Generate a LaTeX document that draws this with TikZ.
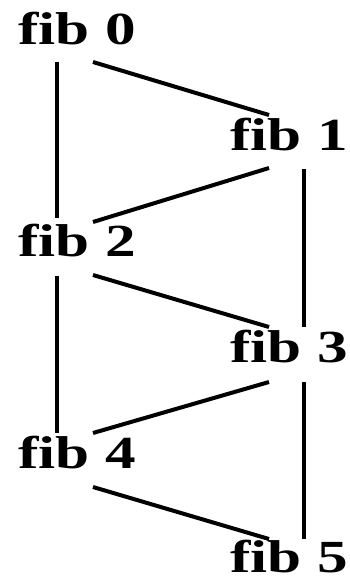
\documentclass[tikz,border=0pt]{standalone}
\usepackage{fontspec}
\setmainfont{Liberation Serif}
\begin{document}
\begin{tikzpicture}[x=0.5pt,y=-0.5pt,
  lbl/.style={inner sep=0pt,anchor=base west,font=\fontsize{23}{27}\selectfont\bfseries},
  edge/.style={line width=2pt}]
\useasboundingbox (0,0) rectangle (349,578);
\node[lbl] (n0) at (18,44)  {\scalebox{1.33}[1]{fib 0}};
\node[lbl] (n1) at (230,150) {\scalebox{1.33}[1]{fib 1}};
\node[lbl] (n2) at (18,256) {\scalebox{1.33}[1]{fib 2}};
\node[lbl] (n3) at (230,362) {\scalebox{1.33}[1]{fib 3}};
\node[lbl] (n4) at (18,468) {\scalebox{1.33}[1]{fib 4}};
\node[lbl] (n5) at (230,572) {\scalebox{1.33}[1]{fib 5}};
% left verticals
\draw[edge] ([shift={(39,18)}]n0.base west) -- ([shift={(39,-38)}]n2.base west);
\draw[edge] ([shift={(39,20)}]n2.base west) -- ([shift={(39,-35)}]n4.base west);
% right verticals
\draw[edge] ([shift={(74,19)}]n1.base west) -- ([shift={(74,-35)}]n3.base west);
\draw[edge] ([shift={(74,20)}]n3.base west) -- ([shift={(74,-33)}]n5.base west);
% diagonals
\draw[edge] ([shift={(75,18)}]n0.base west) -- ([shift={(39,-35)}]n1.base west);
\draw[edge] ([shift={(39,18)}]n1.base west) -- ([shift={(75,-34)}]n2.base west);
\draw[edge] ([shift={(75,19)}]n2.base west) -- ([shift={(39,-35)}]n3.base west);
\draw[edge] ([shift={(39,20)}]n3.base west) -- ([shift={(75,-35)}]n4.base west);
\draw[edge] ([shift={(75,19)}]n4.base west) -- ([shift={(39,-33)}]n5.base west);
\end{tikzpicture}
\end{document}
